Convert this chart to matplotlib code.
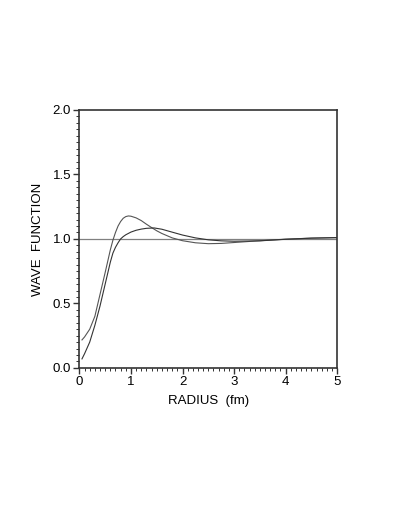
import matplotlib
matplotlib.use("Agg")
import matplotlib.pyplot as plt
from matplotlib.ticker import MultipleLocator

# curve with the higher, earlier peak
r_a = [0.05, 0.1, 0.2, 0.3, 0.4, 0.5, 0.6, 0.65, 0.7, 0.75, 0.8, 0.85, 0.9, 0.95, 1.0,
       1.1, 1.2, 1.3, 1.4, 1.5, 1.6, 1.8, 2.0, 2.25, 2.5, 2.75, 3.0, 3.5, 4.0, 4.5, 5.0]
psi_a = [0.217, 0.24, 0.30, 0.40, 0.57, 0.74, 0.915, 0.99, 1.05, 1.10, 1.135, 1.16, 1.173,
         1.178, 1.176, 1.163, 1.142, 1.114, 1.088, 1.063, 1.042, 1.008, 0.986, 0.970,
         0.963, 0.965, 0.972, 0.986, 0.998, 1.006, 1.01]

# curve with the lower, broader peak
r_b = [0.05, 0.1, 0.2, 0.3, 0.4, 0.5, 0.6, 0.65, 0.7, 0.75, 0.8, 0.85, 0.9, 1.0, 1.1,
       1.2, 1.3, 1.45, 1.6, 1.75, 2.0, 2.25, 2.5, 2.75, 3.0, 3.5, 4.0, 4.5, 5.0]
psi_b = [0.07, 0.11, 0.20, 0.33, 0.48, 0.65, 0.82, 0.89, 0.935, 0.97, 1.0, 1.018, 1.032,
         1.053, 1.067, 1.076, 1.082, 1.085, 1.075, 1.058, 1.03, 1.008, 0.993, 0.985,
         0.982, 0.985, 0.997, 1.006, 1.01]

plt.rcParams['font.family'] = ['Liberation Sans', 'DejaVu Sans']

fig = plt.figure(figsize=(3.99, 5.16), dpi=100)
ax = fig.add_axes([0.199, 0.287, 0.646, 0.500])

ax.axhline(1.0, color='#808080', lw=0.9)
ax.plot(r_a, psi_a, color='#555555', lw=0.8)
ax.plot(r_b, psi_b, color='#333333', lw=0.8)

ax.set_xlim(0, 5)
ax.set_ylim(0, 2)
ax.xaxis.set_major_locator(MultipleLocator(1))
ax.xaxis.set_minor_locator(MultipleLocator(0.1))
ax.yaxis.set_major_locator(MultipleLocator(0.5))
ax.yaxis.set_minor_locator(MultipleLocator(0.05))
ax.xaxis.set_major_formatter(plt.FormatStrFormatter('%d'))
ax.yaxis.set_major_formatter(plt.FormatStrFormatter('%.1f'))

for s in ax.spines.values():
    s.set_linewidth(1.2)
    s.set_color('#333333')
ax.tick_params(which='major', length=4, width=1.0, labelsize=9.5, pad=2, color='#333333')
ax.tick_params(which='minor', length=2, width=0.7, color='#333333')

ax.set_xlabel('RADIUS  (fm)', fontsize=9.5, labelpad=5)
ax.set_ylabel('WAVE  FUNCTION', fontsize=9.5, labelpad=6)

fig.savefig('out.png', dpi=100)
